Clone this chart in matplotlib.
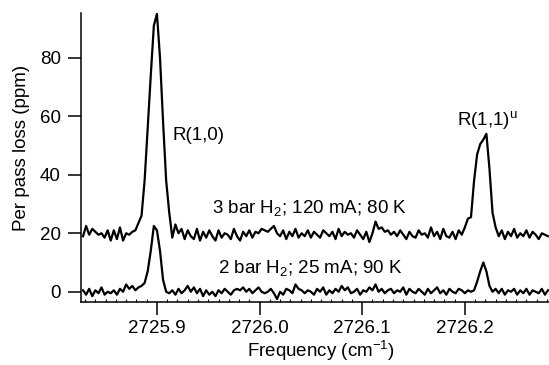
# per pass loss spectra, two discharge conditions

import numpy as np
import matplotlib
matplotlib.use("Agg")
from matplotlib import pyplot as plt
from matplotlib.ticker import MultipleLocator

plt.rcParams['font.family'] = ['Liberation Sans', 'DejaVu Sans']
plt.rcParams['mathtext.fontset'] = 'custom'
plt.rcParams['mathtext.rm'] = 'Liberation Sans'
plt.rcParams['mathtext.it'] = 'Liberation Sans:italic'

# frequency grid of the scan (cm-1)
freq_start = 2725.828
freq_step = 0.003

# 3 bar H2; 120 mA; 80 K  (offset by +20 ppm)
loss_3bar = [
    19.0, 22.5, 19.5, 21.5, 20.5, 19.5, 20.0, 18.5, 21.0, 17.5,
    21.0, 18.0, 22.0, 17.5, 20.0, 19.5, 20.5, 21.0, 23.5, 26.0,
    38.0, 56.0, 74.0, 91.0, 95.0, 80.0, 58.0, 38.0, 27.0, 18.5,
    23.0, 20.0, 21.5, 18.0, 21.0, 19.0, 18.0, 21.5, 17.5, 20.5,
    18.5, 21.0, 19.0, 17.5, 21.0, 18.5, 20.0, 19.5, 18.0, 21.5,
    19.0, 17.5, 20.5, 19.0, 21.0, 18.5, 20.5, 20.0, 21.5, 21.0,
    20.5, 21.5, 22.5, 20.0, 19.0, 21.0, 18.0, 20.5, 19.0, 21.5,
    18.5, 20.0, 19.0, 21.0, 18.5, 20.5, 19.5, 18.5, 21.0, 20.0,
    19.0, 20.5, 18.0, 21.5, 19.0, 20.5, 19.5, 20.0, 18.5, 21.0,
    19.5, 18.0, 20.5, 17.0, 20.0, 24.0, 21.5, 22.0, 20.5, 21.0,
    19.5, 20.5, 19.0, 21.0, 19.5, 18.0, 20.5, 19.0, 18.5, 21.0,
    19.5, 20.0, 18.5, 22.0, 19.0, 20.5, 18.0, 21.5, 19.0, 18.5,
    20.5, 18.0, 21.0, 19.5, 22.0, 25.0, 25.5, 38.0, 47.0, 50.5,
    52.0, 54.0, 42.0, 27.0, 22.0, 19.0, 21.0, 18.0, 20.5, 19.0,
    21.5, 18.5, 20.0, 19.0, 21.0, 18.5, 20.5, 19.5, 18.0, 20.0,
    19.5, 19.0,
]

# 2 bar H2; 25 mA; 90 K
loss_2bar = [
    0.5, -1.0, 1.0, -1.5, 0.5, -0.5, 1.5, -1.0, 0.0, -0.5,
    0.5, -1.0, 1.0, 0.0, 2.5, 1.0, 2.0, 0.5, 1.5, 2.0,
    3.0, 7.0, 14.0, 22.5, 21.0, 14.0, 4.0, 0.0, -0.5, 0.5,
    -1.0, 1.0, -0.5, 0.5, 2.0, 0.0, 1.5, -0.5, 1.0, -1.5,
    0.5, -1.0, 0.0, -1.5, 0.5, -0.5, 1.0, 0.0, -1.0, 0.5,
    1.0, 0.5, 1.5, 0.0, 1.0, -0.5, 0.5, 1.5, 0.0, -0.5,
    0.0, 1.0, -0.5, -2.5, 0.0, -1.0, 1.0, 0.5, -0.5, 2.5,
    1.0, 0.5, -0.5, 0.5, 0.0, -1.0, 1.0, 0.0, 1.5, -1.0,
    0.5, -0.5, 1.0, 0.0, 2.0, 0.5, 1.5, -0.5, 0.0, 1.0,
    -1.0, 0.5, 0.0, 1.5, 0.5, 2.5, 0.0, 1.0, -0.5, 0.5,
    1.0, -0.5, 0.5, 0.0, 1.5, -1.0, 1.0, 0.0, -0.5, 1.0,
    0.0, -1.0, 1.0, -0.5, 0.5, 1.5, -0.5, 0.5, -1.0, 1.0,
    0.0, -0.5, 1.0, 0.5, -0.5, 0.5, 0.0, 0.5, 3.5, 7.0,
    10.0, 7.0, 2.0, 0.0, 1.0, -0.5, 1.0, -1.0, 0.5, 0.0,
    1.0, -1.0, 0.5, -0.5, 1.0, -1.0, 0.5, 0.0, -0.5, 1.0,
    -1.0, 0.5,
]

freq = freq_start + freq_step * np.arange(len(loss_3bar))

fig = plt.figure(figsize=(5.49, 3.65), dpi=100)
ax = fig.add_axes([0.1475, 0.1718, 0.8525, 0.7918])

ax.plot(freq, loss_3bar, color='black', lw=1.6)
ax.plot(freq, loss_2bar, color='black', lw=1.6)

ax.set_xlim(2725.826, 2726.282)
ax.set_ylim(-3.6, 95.2)

for s in ['top', 'right']:
    ax.spines[s].set_visible(False)
for s in ['left', 'bottom']:
    ax.spines[s].set_linewidth(1.1)

ax.set_xticks([2725.9, 2726.0, 2726.1, 2726.2])
ax.set_xticklabels(['2725.9', '2726.0', '2726.1', '2726.2'])
ax.xaxis.set_minor_locator(MultipleLocator(0.01))
ax.set_yticks([0, 20, 40, 60, 80])
ax.tick_params(axis='both', which='major', length=9.5, width=1.1,
               labelsize=13.5, direction='out')
ax.tick_params(axis='x', which='major', pad=3)
ax.tick_params(axis='y', which='major', pad=5)
ax.tick_params(axis='x', which='minor', length=2, width=0.8, direction='in')

ax.set_ylabel('Per pass loss (ppm)', fontsize=13.5, va='center')
ax.yaxis.set_label_coords(-0.128, 0.533)
ax.set_xlabel('Frequency (cm$^{\\mathrm{-1}}$)', fontsize=13.5, va='center')
ax.xaxis.set_label_coords(0.513, -0.170)

ax.text(2725.9155, 51.8, 'R(1,0)', fontsize=13.5, va='baseline')
ax.text(2726.1927, 56.9, 'R(1,1)$^{\\mathrm{u}}$', fontsize=13.5, va='baseline')
ax.text(2725.9534, 26.8, '3 bar H$_{\\mathrm{2}}$; 120 mA; 80 K',
        fontsize=13.5, va='baseline')
ax.text(2725.9593, 6.3, '2 bar H$_{\\mathrm{2}}$; 25 mA; 90 K',
        fontsize=13.5, va='baseline')

fig.savefig('out.png', dpi=100)
